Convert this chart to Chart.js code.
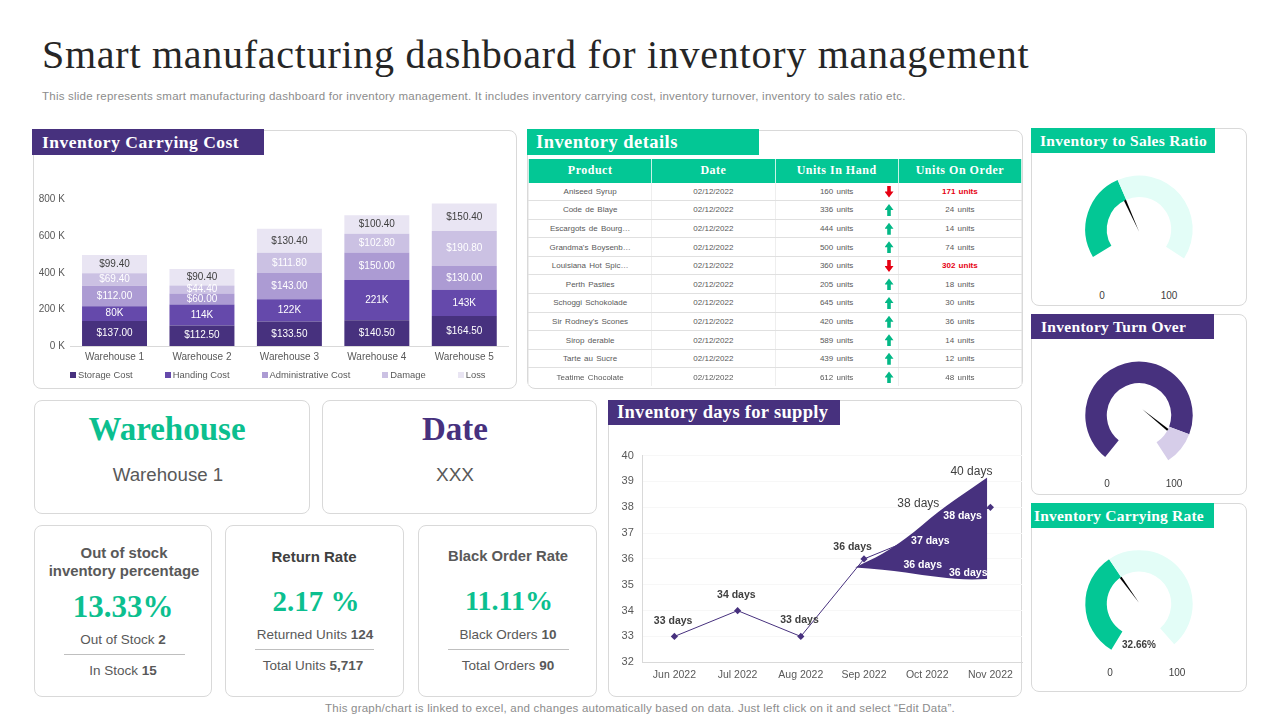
<!DOCTYPE html>
<html>
<head>
<meta charset="utf-8">
<title>Smart manufacturing dashboard</title>
<script src="https://cdn.jsdelivr.net/npm/chart.js@4"></script>
<style>
  html, body { margin: 0; padding: 0; background: #fff; }
  body { width: 1280px; height: 720px; position: relative; overflow: hidden; font-family: "Liberation Sans", Arial, sans-serif; color: #595959; }
  .abs { position: absolute; }
  canvas { position: absolute; }
  .card { position: absolute; box-sizing: border-box; border: 1px solid #d9d9d9; border-radius: 8px; background: #fff; }
  .head { position: absolute; box-sizing: border-box; color: #fff; font-family: "Liberation Serif", serif; font-weight: bold; white-space: nowrap; display: flex; align-items: center; }
  .purple { background: #47317e; }
  .green { background: #03c795; }
  .ctr { position: absolute; transform: translate(-50%, -50%); white-space: nowrap; text-align: center; }
  .serif { font-family: "Liberation Serif", serif; font-weight: bold; }
  .rule { position: absolute; height: 1px; background: #bfbfbf; }
  #title { left: 42px; top: 31px; font: 40px "Liberation Serif", serif; color: #262626; white-space: nowrap; letter-spacing: .74px; }
  #sub { left: 42px; top: 90px; font-size: 11.5px; color: #8c8c8c; white-space: nowrap; letter-spacing: .23px; }
  #foot { left: 640px; top: 708px; font-size: 11.5px; color: #8c8c8c; letter-spacing: .22px; }
  #legend { left: 70px; top: 369px; display: flex; gap: 32px; font-size: 9.4px; color: #595959; white-space: nowrap; }
  #legend span.it { display: flex; align-items: center; gap: 2px; }
  #legend i { display: block; width: 6px; height: 6px; }
  #tbl { position: absolute; left: 528px; top: 159px; width: 494px; border-collapse: collapse; table-layout: fixed; }
  #tbl th { height: 23.5px; padding: 0; background: #03c795; color: #fff; font: bold 12px "Liberation Serif", serif; border-left: 1px solid #c8f3e6; border-right: 1px solid #c8f3e6; letter-spacing: .5px; }
  #tbl td { height: 17.6px; padding: 0; text-align: center; font-size: 8px; color: #595959; border-bottom: 1px solid #e0e0e0; border-left: 1px solid #eeeeee; border-right: 1px solid #eeeeee; position: relative; word-spacing: 1px; }
  #tbl tr:last-child td { border-bottom: 0; }
  #tbl td.low { color: #e60012; font-weight: bold; }
  .arrow { position: absolute; left: 109px; top: 3px; width: 9px; height: 12px; }
  .arrow.up { background: #03b886; clip-path: polygon(50% 0, 100% 50%, 70% 50%, 70% 100%, 30% 100%, 30% 50%, 0 50%); }
  .arrow.down { background: #e60012; clip-path: polygon(30% 0, 70% 0, 70% 50%, 100% 50%, 50% 100%, 0 50%, 30% 50%); }
</style>
</head>
<body>
<div id="title" class="abs">Smart manufacturing dashboard for inventory management</div>
<div id="sub" class="abs">This slide represents smart manufacturing dashboard for inventory management. It includes inventory carrying cost, inventory turnover, inventory to sales ratio etc.</div>

<!-- carrying cost -->
<div class="card" style="left:33px;top:130px;width:484px;height:259px"></div>
<div class="head purple" style="left:32px;top:129px;width:232px;height:26px;padding-left:10px;font-size:17.5px;letter-spacing:.5px">Inventory Carrying Cost</div>
<canvas id="barChart" width="482" height="210" style="left:34px;top:160px"></canvas>
<div id="legend" class="abs"></div>

<!-- table -->
<div class="card" style="left:527px;top:130px;width:496px;height:259px"></div>
<div class="head green" style="left:527px;top:129px;width:232px;height:26px;padding-left:9px;font-size:18.5px;letter-spacing:.45px">Inventory details</div>
<table id="tbl"><thead><tr id="tblHead"></tr></thead><tbody id="tblBody"></tbody></table>

<!-- warehouse / date -->
<div class="card" style="left:34px;top:400px;width:276px;height:114px"></div>
<div class="ctr serif" style="left:167px;top:429px;font-size:33px;color:#0cbf8f">Warehouse</div>
<div class="ctr" style="left:168px;top:475px;font-size:18.7px">Warehouse 1</div>
<div class="card" style="left:322px;top:400px;width:275px;height:114px"></div>
<div class="ctr serif" style="left:455px;top:429px;font-size:33px;color:#47317e">Date</div>
<div class="ctr" style="left:455px;top:475px;font-size:19px">XXX</div>

<!-- kpi cards -->
<div class="card" style="left:34px;top:525px;width:178px;height:172px"></div>
<div class="ctr" style="left:124px;top:562px;font-size:14.9px;font-weight:bold;line-height:18px">Out of stock<br>inventory percentage</div>
<div class="ctr serif" style="left:123px;top:607px;font-size:31px;color:#0cbf8f">13.33%</div>
<div class="ctr" style="left:123px;top:639px;font-size:13.5px">Out of Stock <b>2</b></div>
<div class="rule" style="left:64px;top:654px;width:121px"></div>
<div class="ctr" style="left:123px;top:670px;font-size:13.5px">In Stock <b>15</b></div>

<div class="card" style="left:225px;top:525px;width:179px;height:172px"></div>
<div class="ctr" style="left:314px;top:556px;font-size:15px;font-weight:bold;color:#404040">Return Rate</div>
<div class="ctr serif" style="left:316px;top:601px;font-size:29px;color:#0cbf8f">2.17 %</div>
<div class="ctr" style="left:315px;top:634px;font-size:13.5px">Returned Units <b>124</b></div>
<div class="rule" style="left:255px;top:649px;width:119px"></div>
<div class="ctr" style="left:313px;top:665px;font-size:13.5px">Total Units <b>5,717</b></div>

<div class="card" style="left:418px;top:525px;width:179px;height:172px"></div>
<div class="ctr" style="left:508px;top:556px;font-size:14.8px;font-weight:bold">Black Order Rate</div>
<div class="ctr serif" style="left:509px;top:601px;font-size:28px;color:#0cbf8f">11.11%</div>
<div class="ctr" style="left:508px;top:634px;font-size:13.5px">Black Orders <b>10</b></div>
<div class="rule" style="left:448px;top:649px;width:121px"></div>
<div class="ctr" style="left:508px;top:665px;font-size:13.5px">Total Orders <b>90</b></div>

<!-- days for supply -->
<div class="card" style="left:608px;top:400px;width:414px;height:297px"></div>
<div class="head purple" style="left:608px;top:400px;width:232px;height:25px;padding-left:9px;font-size:18.5px;letter-spacing:.3px">Inventory days for supply</div>
<canvas id="lineChart" width="416" height="245" style="left:610px;top:440px"></canvas>

<!-- gauges -->
<div class="card" style="left:1031px;top:128px;width:216px;height:178px"></div>
<div class="head green" style="left:1031px;top:128px;width:184px;height:25px;padding-left:9px;font-size:15.5px;letter-spacing:.3px">Inventory to Sales Ratio</div>
<canvas id="gauge0" width="140" height="140" style="left:1069px;top:150px"></canvas>
<div class="ctr" style="left:1102px;top:295px;font-size:10px;color:#404040">0</div>
<div class="ctr" style="left:1169px;top:295px;font-size:10px;color:#404040">100</div>

<div class="card" style="left:1031px;top:314px;width:216px;height:181px"></div>
<div class="head purple" style="left:1031px;top:314px;width:183px;height:25px;padding-left:10px;font-size:15.5px;letter-spacing:.3px">Inventory Turn Over</div>
<canvas id="gauge1" width="140" height="140" style="left:1069px;top:340px"></canvas>
<div class="ctr" style="left:1107px;top:483px;font-size:10px;color:#404040">0</div>
<div class="ctr" style="left:1174px;top:483px;font-size:10px;color:#404040">100</div>

<div class="card" style="left:1031px;top:503px;width:216px;height:189px"></div>
<div class="head green" style="left:1031px;top:503px;width:183px;height:25px;padding-left:3px;font-size:15.5px;letter-spacing:.2px">Inventory Carrying Rate</div>
<canvas id="gauge2" width="140" height="140" style="left:1069px;top:530px"></canvas>
<div class="ctr" style="left:1139px;top:644px;font-size:10px;font-weight:bold;color:#404040">32.66%</div>
<div class="ctr" style="left:1110px;top:672px;font-size:10px;color:#404040">0</div>
<div class="ctr" style="left:1177px;top:672px;font-size:10px;color:#404040">100</div>

<div id="foot" class="ctr">This graph/chart is linked to excel, and changes automatically based on data. Just left click on it and select “Edit Data”.</div>

<script>
// --- stacked bars
const warehouses = ['Warehouse 1', 'Warehouse 2', 'Warehouse 3', 'Warehouse 4', 'Warehouse 5'];
const storageCost = [137, 112.5, 133.5, 140.5, 164.5];
const handingCost = [80, 114, 122, 221, 143];
const adminCost = [112, 60, 143, 150, 130];
const damage = [69.4, 44.4, 111.8, 102.8, 190.8];
const loss = [99.4, 90.4, 130.4, 100.4, 150.4];
const costTicks = [0, 200, 400, 600, 800];

// --- table
const tableHeads = ['Product', 'Date', 'Units In Hand', 'Units On Order'];
const products = ['Aniseed Syrup', 'Code de Blaye', 'Escargots de Bourg…', 'Grandma\'s Boysenb…', 'Louisiana Hot Spic…', 'Perth Pasties', 'Schoggi Schokolade', 'Sir Rodney\'s Scones', 'Sirop derable', 'Tarte au Sucre', 'Teatime Chocolate'];
const unitsInHand = [160, 336, 444, 500, 360, 205, 645, 420, 589, 439, 612];
const unitsOnOrder = [171, 24, 14, 74, 302, 18, 30, 36, 14, 12, 48];
const tableDate = '02/12/2022';

// --- days for supply
const months = ['Jun 2022', 'Jul 2022', 'Aug 2022', 'Sep 2022', 'Oct 2022', 'Nov 2022'];
const daysSupply = [33, 34, 33, 36, 37, 38];
// freeform wedge from the slide, in axis units (x = month index)
const wedgeX = [2.86, 3.29, 3.66, 4.18, 4.71, 4.95];
const wedgeTop = [35.67, 36.2, 36.8, 37.83, 38.75, 39.15];
const wedgeBottom = [35.67, 35.58, 35.48, 35.3, 35.2, 35.22];
const noteText = ['33 days', '34 days', '33 days', '36 days', '38 days', '40 days', '38 days', '37 days', '36 days', '36 days'];
const noteX = [-0.02, 0.98, 1.98, 2.82, 3.86, 4.7, 4.56, 4.05, 3.93, 4.65];
const noteY = [33.59, 34.6, 33.63, 36.45, 38.15, 39.39, 37.65, 36.68, 35.76, 35.45];
const noteKind = ['dark', 'dark', 'dark', 'dark', 'grey', 'grey', 'white', 'white', 'white', 'white'];

// --- gauges
const gaugeValues = [40, 87.4, 40];
const gaugeNeedles = [39, 89.5, 39.7];

const PURPLE = '#47317e';
const GREEN = '#03c795';
const el = id => document.getElementById(id);

Chart.defaults.font.family = '"Liberation Sans", Arial, sans-serif';
Chart.defaults.animation = false;

// table
el('tblHead').innerHTML = tableHeads.map(h => '<th>' + h + '</th>').join('');
el('tblBody').innerHTML = products.map((p, i) => {
  const low = unitsOnOrder[i] > 100;
  return '<tr><td>' + p + '</td><td>' + tableDate + '</td>' +
    '<td>' + unitsInHand[i] + ' units<span class="arrow ' + (low ? 'down' : 'up') + '"></span></td>' +
    '<td' + (low ? ' class="low"' : '') + '>' + unitsOnOrder[i] + ' units</td></tr>';
}).join('');

// bar chart
const barSeries = [
  { label: 'Storage Cost', data: storageCost, backgroundColor: PURPLE, fmt: v => '$' + v.toFixed(2), txt: '#fff' },
  { label: 'Handing Cost', data: handingCost, backgroundColor: '#6549ab', fmt: v => v + 'K', txt: '#fff' },
  { label: 'Administrative Cost', data: adminCost, backgroundColor: '#ac9bd3', fmt: v => '$' + v.toFixed(2), txt: '#fff' },
  { label: 'Damage', data: damage, backgroundColor: '#cbc1e3', fmt: v => '$' + v.toFixed(2), txt: '#fff' },
  { label: 'Loss', data: loss, backgroundColor: '#e9e5f3', fmt: v => '$' + v.toFixed(2), txt: '#404040' }
];

el('legend').innerHTML = barSeries.map(s =>
  '<span class="it"><i style="background:' + s.backgroundColor + '"></i>' + s.label + '</span>').join('');

const barLabels = {
  id: 'barLabels',
  afterDatasetsDraw(chart) {
    const ctx = chart.ctx;
    ctx.save();
    ctx.font = '10px "Liberation Sans"';
    ctx.textAlign = 'center';
    ctx.textBaseline = 'middle';
    chart.data.datasets.forEach((ds, i) => {
      chart.getDatasetMeta(i).data.forEach((bar, j) => {
        ctx.fillStyle = ds.txt;
        ctx.fillText(ds.fmt(ds.data[j]), bar.x, (bar.y + bar.base) / 2);
      });
    });
    ctx.restore();
  }
};

new Chart(el('barChart'), {
  type: 'bar',
  data: { labels: warehouses, datasets: barSeries },
  options: {
    responsive: false,
    layout: { padding: { top: 39.7, right: 8, left: 0, bottom: 0 } },
    plugins: { legend: { display: false }, tooltip: { enabled: false } },
    datasets: { bar: { barPercentage: 1, categoryPercentage: 0.743 } },
    scales: {
      x: {
        stacked: true,
        afterFit: s => { s.height = 24; },
        grid: { display: false, drawTicks: false },
        border: { color: '#d9d9d9' },
        ticks: { color: '#595959', font: { size: 10 }, padding: 5, maxRotation: 0 }
      },
      y: {
        stacked: true,
        min: 0,
        max: 800,
        afterFit: s => { s.width = 36.8; },
        afterBuildTicks: s => { s.ticks = costTicks.map(v => ({ value: v })); },
        grid: { display: false, drawTicks: false },
        border: { display: false },
        ticks: { color: '#595959', font: { size: 10 }, padding: 6, callback: v => v + ' K' }
      }
    }
  },
  plugins: [barLabels]
});

// line chart
const noteStyle = {
  dark: { font: 'bold 10.5px "Liberation Sans"', color: '#404040' },
  grey: { font: '12px "Liberation Sans"', color: '#404040' },
  white: { font: 'bold 10.5px "Liberation Sans"', color: '#fff' }
};

const notes = {
  id: 'notes',
  afterDatasetsDraw(chart) {
    const ctx = chart.ctx;
    const xs = chart.scales.xWedge;
    const ys = chart.scales.y;
    ctx.save();
    ctx.textAlign = 'center';
    ctx.textBaseline = 'middle';
    noteText.forEach((t, i) => {
      const st = noteStyle[noteKind[i]];
      ctx.font = st.font;
      ctx.fillStyle = st.color;
      ctx.fillText(t, xs.getPixelForValue(noteX[i]), ys.getPixelForValue(noteY[i]));
    });
    ctx.restore();
  }
};

new Chart(el('lineChart'), {
  type: 'line',
  data: {
    labels: months,
    datasets: [
      {
        data: daysSupply, xAxisID: 'x', borderColor: PURPLE, backgroundColor: PURPLE, borderWidth: 1,
        pointStyle: 'rectRot', pointRadius: 3.6, pointBackgroundColor: PURPLE, pointBorderWidth: 0, tension: 0
      },
      {
        data: wedgeX.map((x, i) => ({ x: x, y: wedgeTop[i] })), xAxisID: 'xWedge', borderWidth: 0, pointRadius: 0,
        cubicInterpolationMode: 'monotone', backgroundColor: PURPLE, fill: { target: 2 }
      },
      {
        data: wedgeX.map((x, i) => ({ x: x, y: wedgeBottom[i] })), xAxisID: 'xWedge', borderWidth: 0, pointRadius: 0,
        cubicInterpolationMode: 'monotone', fill: false
      }
    ]
  },
  options: {
    responsive: false,
    layout: { padding: { top: 15.3, right: 0, left: 0, bottom: 0 } },
    plugins: { legend: { display: false }, tooltip: { enabled: false } },
    scales: {
      x: {
        offset: true,
        afterFit: s => { s.height = 22.7; },
        grid: { display: false, drawTicks: false },
        border: { color: '#d9d9d9' },
        ticks: { color: '#595959', font: { size: 10.5 }, padding: 7, maxRotation: 0 }
      },
      xWedge: { type: 'linear', min: -0.5, max: 5.5, display: false },
      y: {
        min: 32,
        max: 40,
        afterFit: s => { s.width = 32.8; },
        grid: { color: '#f7f7f7', drawTicks: false },
        border: { color: '#d9d9d9' },
        ticks: { stepSize: 1, color: '#595959', font: { size: 11 }, padding: 9 }
      }
    }
  },
  plugins: [notes]
});

// gauges
const needle = {
  id: 'needle',
  afterDatasetsDraw(chart, args, opts) {
    const arc = chart.getDatasetMeta(0).data[0];
    const ds = chart.options;
    const a = (ds.rotation - 90 + opts.value / 100 * ds.circumference) * Math.PI / 180;
    const tipX = arc.x + arc.innerRadius * Math.cos(a);
    const tipY = arc.y + arc.innerRadius * Math.sin(a);
    const baseX = arc.x + opts.base[0];
    const baseY = arc.y + opts.base[1];
    const ang = Math.atan2(tipY - baseY, tipX - baseX);
    const ctx = chart.ctx;
    ctx.save();
    ctx.fillStyle = '#000';
    ctx.beginPath();
    ctx.moveTo(baseX, baseY);
    ctx.lineTo(tipX - Math.sin(ang) * 1.1, tipY + Math.cos(ang) * 1.1);
    ctx.lineTo(tipX + Math.sin(ang) * 1.1, tipY - Math.cos(ang) * 1.1);
    ctx.closePath();
    ctx.fill();
    ctx.restore();
  }
};

function makeGauge(id, idx, color, pale, rotation, circumference, base, cx, cy) {
  const cv = el(id);
  const chart = new Chart(cv, {
    type: 'doughnut',
    data: { datasets: [{ data: [gaugeValues[idx], 100 - gaugeValues[idx]], backgroundColor: [color, pale], borderWidth: 0 }] },
    options: {
      responsive: false,
      rotation: rotation,
      circumference: circumference,
      radius: 53.7,
      cutout: '60%',
      plugins: {
        legend: { display: false },
        tooltip: { enabled: false },
        needle: { value: gaugeNeedles[idx], base: base }
      }
    },
    plugins: [needle]
  });
  // partial doughnuts get re-centred by the library, so pull the canvas back onto the target centre
  const arc = chart.getDatasetMeta(0).data[0];
  cv.style.left = (cx - arc.x) + 'px';
  cv.style.top = (cy - arc.y) + 'px';
}

makeGauge('gauge0', 0, GREEN, '#e3fdf7', -121, 244, [0, 2.3], 1138.7, 229.4);
makeGauge('gauge1', 1, PURPLE, '#d6cde9', -141, 288, [3.3, -6], 1138.7, 415.3);
makeGauge('gauge2', 2, GREEN, '#e3fdf7', -149, 288, [0, -1], 1138.7, 604.3);
</script>
</body>
</html>
